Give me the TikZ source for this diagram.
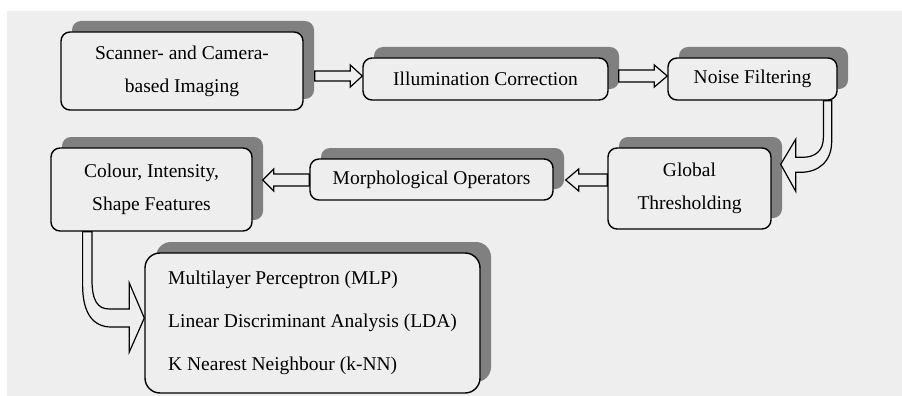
\documentclass[tikz,border=0pt]{standalone}
\usepackage{fontspec}
\setmainfont{Liberation Serif}
\usepackage{tikz}
\usetikzlibrary{
  calc,
  shadows
}
\definecolor{ipPanel}{HTML}{EEEEEE}
\definecolor{ipShadow}{HTML}{808080}
\tikzset{
  procbox/.style={
    draw, line width=1.4pt, rounded corners=9pt, fill=ipPanel,
    align=center, inner sep=0pt, font={\fontsize{19.5}{33}\selectfont},
    drop shadow={shadow xshift=11pt, shadow yshift=11pt, fill=ipShadow, opacity=1}
  },
  listbox/.style={procbox, rounded corners=15pt, align=left, font={\fontsize{19.5}{43}\selectfont}},
  hollowarrow/.style={draw, fill=ipPanel, line width=1.2pt, line join=miter}
}

\begin{document}
\begin{tikzpicture}[x=1pt, y=-1pt]
  \fill[white] (0,0) rectangle (902,396);
  \useasboundingbox (0,0) rectangle (902,396);
  \fill[ipPanel] (7,11) rectangle (902,396);

  \node[procbox, minimum width=242pt, minimum height=78pt] (scan) at (182,71) {Scanner- and Camera-\\based Imaging};
  \node[procbox, minimum width=245pt, minimum height=42pt] (illum) at (485.5,79) {Illumination Correction};
  \node[procbox, minimum width=169pt, minimum height=42pt] (noise) at (752.5,79) {Noise Filtering};
  \node[procbox, minimum width=163pt, minimum height=81pt] (thresh) at (689.5,188.5) {Global\\Thresholding};
  \node[procbox, minimum width=243pt, minimum height=41pt] (morph) at (431.5,179.5) {Morphological Operators};
  \node[procbox, minimum width=201pt, minimum height=83pt] (feat) at (151.5,189.5) {Colour, Intensity,\\Shape Features};
  \node[listbox, minimum width=335pt, minimum height=140pt] (classify) at (312.5,323) {Multilayer Perceptron (MLP)\\Linear Discriminant Analysis (LDA)\\K Nearest Neighbour (k-NN)};

  \coordinate (s1) at ($(scan.east)+(11,5)$);
  \coordinate (t1) at ($(illum.west)+(0,-3)$);
  \draw[hollowarrow] ($(s1)+(0,-5)$) -- ($(t1)+(-12,-5)$) -- ($(t1)+(-12,-11)$) -- (t1)
    -- ($(t1)+(-12,11)$) -- ($(t1)+(-12,5)$) -- ($(s1)+(0,5)$) -- cycle;

  \coordinate (s2) at ($(illum.east)+(10,-3)$);
  \coordinate (t2) at ($(noise.west)+(0,-3)$);
  \draw[hollowarrow] ($(s2)+(0,-6)$) -- ($(t2)+(-13,-6)$) -- ($(t2)+(-13,-11)$) -- (t2)
    -- ($(t2)+(-13,11)$) -- ($(t2)+(-13,6)$) -- ($(s2)+(0,6)$) -- cycle;

  \coordinate (s3) at ($(noise.south east)+(-10,0)$);
  \coordinate (t3) at ($(thresh.north east)+(9,17)$);
  \draw[hollowarrow] ($(s3)+(-4.3,0)$) -- ($(s3 |- t3)+(-4.3,-27)$)
    .. controls ($(s3 |- t3)+(-4.3,-13)$) and ($(t3)+(34,-7)$) .. ($(t3)+(22,-7)$)
    -- ($(t3)+(15,-7)$) -- ($(t3)+(15,-25)$) -- (t3) -- ($(t3)+(15,27)$) -- ($(t3)+(15,8)$)
    -- ($(t3)+(20,8)$) .. controls ($(t3)+(38,8)$) and ($(s3 |- t3)+(4,-3)$) .. ($(s3 |- t3)+(4,-23)$)
    -- ($(s3)+(4,0)$) -- cycle;

  \coordinate (s5) at ($(thresh.west)+(0,-8.5)$);
  \coordinate (t5) at ($(morph.east)+(12,0.5)$);
  \draw[hollowarrow] ($(s5)+(0,-6)$) -- ($(t5)+(13,-6)$) -- ($(t5)+(13,-11)$) -- (t5)
    -- ($(t5)+(13,11)$) -- ($(t5)+(13,6)$) -- ($(s5)+(0,6)$) -- cycle;

  \coordinate (s4) at ($(morph.west)+(0,0.5)$);
  \coordinate (t4) at ($(feat.east)+(10,-9.5)$);
  \draw[hollowarrow] ($(s4)+(0,-6)$) -- ($(t4)+(11,-6)$) -- ($(t4)+(11,-11)$) -- (t4)
    -- ($(t4)+(11,11)$) -- ($(t4)+(11,6)$) -- ($(s4)+(0,6)$) -- cycle;

  \coordinate (s6) at ($(feat.south west)+(37,0)$);
  \coordinate (t6) at ($(classify.west)+(0,-5)$);
  \draw[hollowarrow] ($(s6)+(-4.7,0)$) -- ($(s6 |- t6)+(-4.7,-33)$)
    .. controls ($(s6 |- t6)+(-4.7,-3)$) and ($(t6)+(-50,9)$) .. ($(t6)+(-33,9)$)
    -- ($(t6)+(-15,9)$) -- ($(t6)+(-15,34)$) -- (t6) -- ($(t6)+(-15,-35)$) -- ($(t6)+(-15,-9)$)
    -- ($(t6)+(-35,-9)$) .. controls ($(t6)+(-47,-9)$) and ($(s6 |- t6)+(4.7,-18)$) .. ($(s6 |- t6)+(4.7,-38)$)
    -- ($(s6)+(4.7,0)$) -- cycle;
\end{tikzpicture}
\end{document}
